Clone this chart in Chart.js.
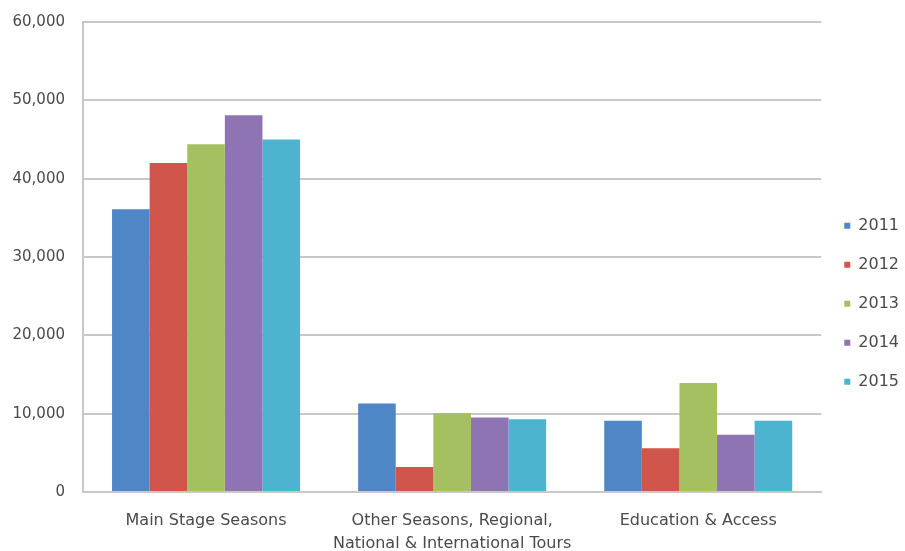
<!DOCTYPE html>
<html>
<head>
<meta charset="utf-8">
<script src="https://cdn.jsdelivr.net/npm/chart.js@4"></script>
<style>
  html, body { margin: 0; padding: 0; background: #fff; }
  #wrap { width: 905px; height: 551px; }
</style>
</head>
<body>
<div id="wrap"><canvas id="chart"></canvas></div>
<script>
// données
const categories = [
  "Main Stage Seasons",
  ["Other Seasons, Regional,", "National & International Tours"],
  "Education & Access"
];
const years = ["2011", "2012", "2013", "2014", "2015"];
const values2011 = [36100, 11300, 9100];
const values2012 = [42000, 3200, 5600];
const values2013 = [44400, 10100, 13900];
const values2014 = [48100, 9500, 7300];
const values2015 = [45000, 9300, 9100];
const yTicks = [0, 10000, 20000, 30000, 40000, 50000, 60000];

const colors = ["#4F86C6", "#D0554B", "#A4C060", "#8F74B4", "#4CB4CE"];
const series = [values2011, values2012, values2013, values2014, values2015];

const gridColor = "#c8c8c8";
const textColor = "#4a4a4a";
const fontFamily = "'DejaVu Sans', sans-serif";

new Chart(document.getElementById("chart"), {
  type: "bar",
  data: {
    labels: categories,
    datasets: series.map((s, i) => ({
      label: years[i],
      data: s,
      backgroundColor: colors[i],
      borderWidth: 0,
      barPercentage: 1,
      categoryPercentage: 0.764
    }))
  },
  options: {
    responsive: true,
    maintainAspectRatio: false,
    animation: false,
    layout: { padding: { top: 22, right: -4, bottom: 0, left: 0 } },
    plugins: {
      tooltip: { enabled: false },
      legend: {
        position: "right",
        // titre vide : sert juste à descendre la légende
        title: { display: true, text: "", padding: 10, font: { size: 12 } },
        labels: {
          boxWidth: 6,
          boxHeight: 6,
          padding: 23,
          color: textColor,
          font: { family: fontFamily, size: 16 }
        }
      }
    },
    scales: {
      x: {
        grid: { display: false, drawTicks: false },
        border: { display: true, color: gridColor, width: 2 },
        ticks: {
          color: textColor,
          padding: 17,
          maxRotation: 0,
          font: { family: fontFamily, size: 16, lineHeight: 1.45 }
        },
        afterFit: (scale) => { scale.height = 59; }
      },
      y: {
        min: 0,
        max: 60000,
        afterBuildTicks: (scale) => { scale.ticks = yTicks.map(v => ({ value: v })); },
        // tirets invisibles pour écarter les libellés sans toucher au haut du graphique
        grid: { color: gridColor, lineWidth: 2, drawTicks: true, tickLength: 18, tickColor: "rgba(0,0,0,0)" },
        border: { display: true, color: gridColor, width: 2 },
        ticks: {
          color: textColor,
          padding: 0,
          font: { family: fontFamily, size: 15 },
          callback: (v) => Number(v).toLocaleString("en-US")
        },
        afterFit: (scale) => { scale.width = 83; }
      }
    }
  }
});
</script>
</body>
</html>
